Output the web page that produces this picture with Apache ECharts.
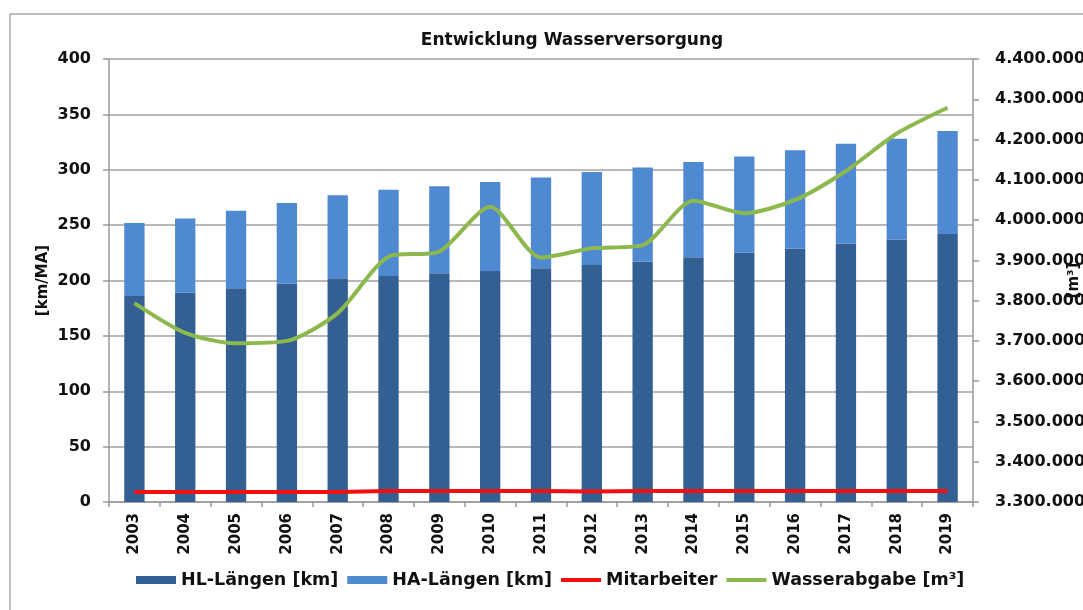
<!DOCTYPE html>
<html>
<head>
<meta charset="utf-8">
<script src="https://cdn.jsdelivr.net/npm/echarts@6/dist/echarts.min.js"></script>
<style>
  html, body { margin: 0; padding: 0; background: #fff; }
  #chart { width: 1083px; height: 610px; }
</style>
</head>
<body>
<div id="chart"></div>
<script>
// Jahre
var years = ["2003", "2004", "2005", "2006", "2007", "2008", "2009", "2010", "2011",
  "2012", "2013", "2014", "2015", "2016", "2017", "2018", "2019"];

// Längen in km
var hlLaengen = [186, 189, 193, 197, 202, 204, 206.5, 208.5, 211, 214, 217, 221, 225, 229, 233.5, 237, 242];
var haLaengen = [66, 67, 70, 73, 75, 78, 78.5, 80.5, 82, 84, 85, 86, 87, 88.5, 90, 91, 93];

// Mitarbeiter
var mitarbeiter = [9, 9, 9, 9, 9, 10, 10, 10, 10, 9.5, 10, 10, 10, 10, 10, 10, 10];

// Wasserabgabe in m³
var wasserabgabe = [3794000, 3720000, 3694000, 3700000, 3769000, 3909000, 3922000, 4033000, 3907000,
  3930000, 3938000, 4048000, 4017000, 4050000, 4122000, 4215000, 4279000];

var fontFam = "DejaVu Sans";
var lineIcon = "path://M0,0L40,0L40,4L0,4Z";

function dotted(v) {
  return String(v).replace(/\B(?=(\d{3})+(?!\d))/g, ".");
}

var myChart = echarts.init(document.getElementById("chart"));

var option = {
  animation: false,
  title: {
    text: "Entwicklung Wasserversorgung",
    left: 567,
    top: 27,
    textAlign: "center",
    textStyle: { fontFamily: fontFam, fontWeight: "bold", fontSize: 17, color: "#111" }
  },
  graphic: [
    {
      // Rahmen (links und oben sichtbar)
      type: "polyline",
      shape: { points: [[10, 620], [10, 14], [1090, 14]] },
      style: { fill: null, stroke: "#aaaaaa", lineWidth: 1.5 },
      silent: true
    }
  ],
  legend: {
    bottom: 16,
    left: 131,
    itemWidth: 40,
    itemHeight: 8,
    itemGap: 9,
    textStyle: { fontFamily: fontFam, fontWeight: "bold", fontSize: 17.5, color: "#111" },
    data: [
      { name: "HL-Längen [km]", icon: "rect" },
      { name: "HA-Längen [km]", icon: "rect" },
      { name: "Mitarbeiter", icon: lineIcon },
      { name: "Wasserabgabe [m³]", icon: lineIcon }
    ]
  },
  grid: { left: 109, right: 110, top: 59, bottom: 108, containLabel: false, outerBoundsMode: "none" },
  xAxis: {
    type: "category",
    data: years,
    axisLine: { lineStyle: { color: "#999", width: 1.5 } },
    axisTick: { show: true, length: 5, lineStyle: { color: "#999", width: 1.5 } },
    axisLabel: {
      rotate: 90,
      margin: 11,
      fontFamily: fontFam,
      fontWeight: "bold",
      fontSize: 15,
      color: "#111"
    }
  },
  yAxis: [
    {
      type: "value",
      min: 0,
      max: 400,
      interval: 50,
      name: "[km/MA]",
      nameLocation: "middle",
      nameGap: 58,
      nameMoveOverlap: false,
      nameTextStyle: { fontFamily: fontFam, fontWeight: "bold", fontSize: 15, color: "#111" },
      axisLine: { show: true, lineStyle: { color: "#999", width: 1.5 } },
      axisTick: { show: true, length: 6, lineStyle: { color: "#999", width: 1.5 } },
      splitLine: { lineStyle: { color: "#a0a0a0", width: 1.5 } },
      axisLabel: { margin: 18, fontFamily: fontFam, fontWeight: "bold", fontSize: 16, color: "#111" }
    },
    {
      type: "value",
      min: 3300000,
      max: 4400000,
      interval: 100000,
      position: "right",
      name: "[m³]",
      nameLocation: "middle",
      nameGap: 94,
      nameRotate: 90,
      nameMoveOverlap: false,
      nameTextStyle: { fontFamily: fontFam, fontWeight: "bold", fontSize: 15, color: "#111" },
      axisLine: { show: true, lineStyle: { color: "#999", width: 1.5 } },
      axisTick: { show: true, length: 6, lineStyle: { color: "#999", width: 1.5 } },
      splitLine: { show: false },
      axisLabel: {
        margin: 22,
        fontFamily: fontFam,
        fontWeight: "bold",
        fontSize: 16,
        color: "#111",
        formatter: function (v) { return dotted(v); }
      }
    }
  ],
  series: [
    {
      name: "HL-Längen [km]",
      type: "bar",
      stack: "laenge",
      barWidth: "40%",
      itemStyle: { color: "#335f92" },
      data: hlLaengen
    },
    {
      name: "HA-Längen [km]",
      type: "bar",
      stack: "laenge",
      barWidth: "40%",
      itemStyle: { color: "#4f89d2" },
      data: haLaengen
    },
    {
      name: "Mitarbeiter",
      type: "line",
      symbol: "none",
      itemStyle: { color: "#f01010" },
      lineStyle: { color: "#f01010", width: 4 },
      data: mitarbeiter
    },
    {
      name: "Wasserabgabe [m³]",
      type: "line",
      yAxisIndex: 1,
      symbol: "none",
      smooth: 0.25,
      itemStyle: { color: "#8cb84e" },
      lineStyle: { color: "#8cb84e", width: 4 },
      data: wasserabgabe
    }
  ]
};

myChart.setOption(option);
</script>
</body>
</html>
